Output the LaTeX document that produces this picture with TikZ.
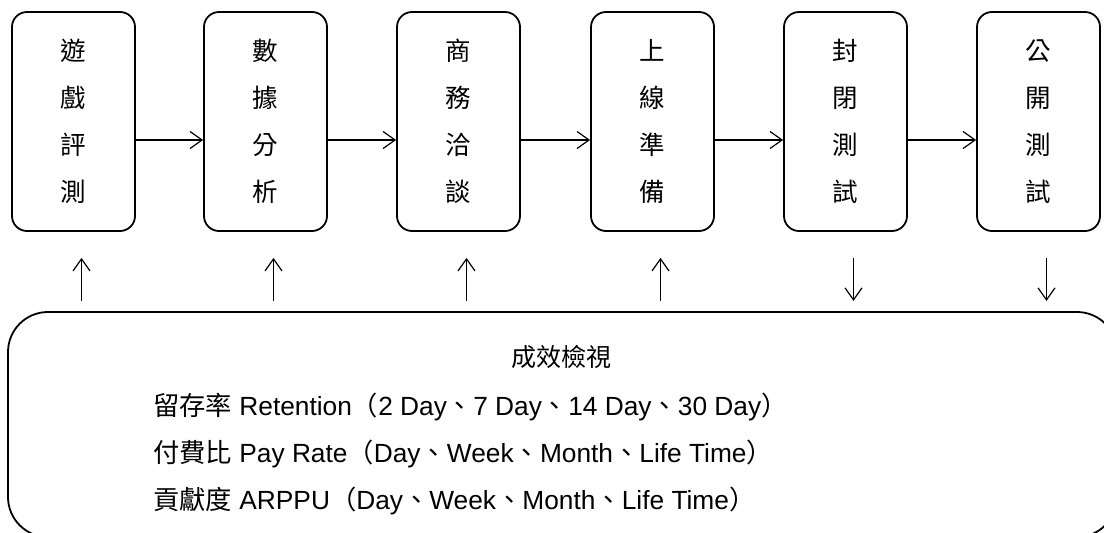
\documentclass[tikz,border=0pt]{standalone}
\usepackage{fontspec}
\setmainfont{Liberation Sans}
\newfontfamily\cjk{Noto Sans CJK TC}
\usetikzlibrary{arrows.meta}
\tikzset{
  stagebox/.style={draw, line width=1.8pt, rounded corners=15pt, minimum width=123pt, minimum height=219pt, inner sep=0pt, align=center, font=\cjk\fontsize{25.5pt}{47pt}\selectfont},
  reviewbox/.style={draw, line width=1.8pt, rounded corners=40pt, minimum width=1109pt, minimum height=225pt, inner sep=0pt},
  flow/.style={line width=1.2pt, -{Straight Barb[length=12pt,width=17pt,line width=1.2pt]}},
  metric/.style={anchor=base west, inner sep=0pt, font=\fontsize{26.3pt}{30pt}\selectfont},
}
\begin{document}
\begin{tikzpicture}[x=1pt,y=-1pt]
\useasboundingbox (0,0) rectangle (1104,533);
\clip (0,0) rectangle (1104,533);
\node[stagebox] (b1) at (73.5,121.5) {遊\\戲\\評\\測};
\node[stagebox] (b2) at (265.5,121.5) {數\\據\\分\\析};
\node[stagebox] (b3) at (458.5,121.5) {商\\務\\洽\\談};
\node[stagebox] (b4) at (652.5,121.5) {上\\線\\準\\備};
\node[stagebox] (b5) at (845.5,121.5) {封\\閉\\測\\試};
\node[stagebox] (b6) at (1038.5,121.5) {公\\開\\測\\試};
\foreach \a/\b in {b1/b2,b2/b3,b3/b4,b4/b5,b5/b6}
  \draw[flow] ([yshift=-18.5pt]\a.east) -- ([yshift=-18.5pt]\b.west);
\node[reviewbox] (rv) at (562.5,424.5) {};
\foreach \n in {1,...,6}{
  \coordinate (top\n) at ([xshift=8pt,yshift=-26pt]b\n.south);
  \coordinate (bot\n) at ([xshift=8pt,yshift=-69pt]b\n.south);
}
\foreach \n in {1,2,3,4} \draw[flow] (bot\n) -- (top\n);
\foreach \n in {5,6} \draw[flow] (top\n) -- (bot\n);
\node[anchor=base, inner sep=0pt, font=\cjk\fontsize{25pt}{30pt}\selectfont] (title) at (561,366) {成效檢視};
\node[metric] (m1) at (153,415) {{\cjk 留存率} Retention{\cjk （}2 Day{\cjk 、}7 Day{\cjk 、}14 Day{\cjk 、}30 Day{\cjk ）}};
\node[metric] (m2) at (153,462) {{\cjk 付費比} Pay Rate{\cjk （}Day{\cjk 、}Week{\cjk 、}Month{\cjk 、}Life Time{\cjk ）}};
\node[metric] (m3) at (153,509) {{\cjk 貢獻度} ARPPU{\cjk （}Day{\cjk 、}Week{\cjk 、}Month{\cjk 、}Life Time{\cjk ）}};
\end{tikzpicture}
\end{document}
